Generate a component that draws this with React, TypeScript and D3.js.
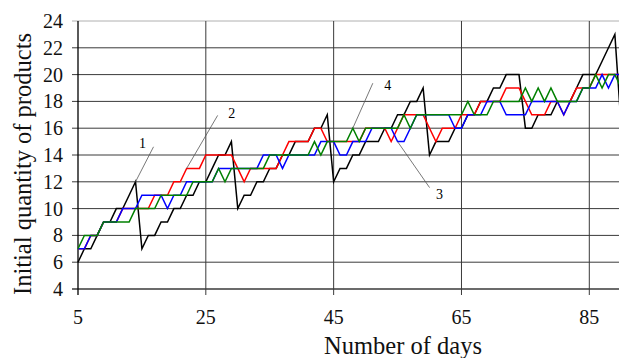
import React, { useEffect, useRef } from "react";
import { select, scaleLinear, line, range } from "d3";

const W = 619;
const H = 358;
// plot frame: x(5) at 78, x(85) at 589 -> x(90) falls just past the right edge
const MARGIN = { top: 21, left: 78, bottom: 69 };
const FONT = "'Liberation Serif', 'Times New Roman', serif";

// day index shared by every series
const DAYS = range(5, 91);

// series 1 (black)
const SERIES_1 = [
  6, 7, 7, 8, 9, 9, 10, 10, 11, 12,
  7, 8, 8, 9, 9, 10, 10, 11, 11, 12,
  12, 13, 14, 14, 15, 10, 11, 11, 12, 12,
  13, 13, 14, 14, 15, 15, 15, 16, 16, 17,
  12, 13, 13, 14, 14, 15, 15, 15, 16, 16,
  17, 17, 18, 18, 19, 14, 15, 15, 15, 16,
  16, 17, 17, 18, 18, 19, 19, 20, 20, 20,
  16, 16, 17, 17, 17, 18, 18, 18, 19, 20,
  20, 20, 21, 22, 23, 16,
];

// series 2 (red)
const SERIES_2 = [
  7, 7, 8, 8, 9, 9, 9, 10, 10, 10,
  10, 10, 11, 11, 11, 12, 12, 13, 13, 13,
  14, 14, 14, 14, 14, 13, 12, 13, 13, 13,
  13, 13, 14, 15, 15, 15, 15, 16, 16, 15,
  15, 15, 15, 15, 15, 16, 16, 16, 16, 15,
  16, 17, 17, 17, 17, 16, 15, 16, 16, 16,
  17, 17, 17, 18, 18, 18, 18, 19, 19, 19,
  18, 17, 17, 17, 18, 18, 17, 18, 19, 19,
  19, 20, 20, 20, 20, 20,
];

// series 3 (blue)
const SERIES_3 = [
  7, 7, 8, 8, 9, 9, 9, 10, 10, 10,
  11, 11, 11, 11, 10, 11, 11, 12, 12, 12,
  12, 12, 13, 13, 13, 13, 13, 13, 13, 14,
  14, 14, 13, 14, 14, 14, 14, 14, 15, 15,
  15, 14, 14, 15, 15, 15, 16, 16, 16, 16,
  15, 15, 16, 17, 17, 17, 17, 17, 17, 16,
  16, 17, 17, 17, 18, 18, 18, 17, 17, 17,
  17, 18, 18, 18, 18, 18, 17, 18, 18, 19,
  19, 19, 20, 19, 20, 20,
];

// series 4 (green)
const SERIES_4 = [
  7, 8, 8, 8, 9, 9, 9, 9, 9, 10,
  10, 10, 10, 11, 11, 11, 11, 11, 12, 12,
  12, 12, 13, 12, 13, 13, 13, 13, 13, 13,
  14, 14, 14, 14, 14, 14, 14, 15, 14, 15,
  15, 15, 15, 16, 15, 16, 16, 16, 16, 16,
  16, 17, 16, 17, 17, 17, 17, 17, 17, 17,
  17, 18, 17, 17, 17, 18, 18, 18, 18, 18,
  19, 18, 19, 18, 19, 18, 18, 18, 18, 19,
  19, 20, 19, 20, 20, 19,
];

const SERIES = [SERIES_1, SERIES_2, SERIES_3, SERIES_4];
const COLORS = ["#000000", "#ff0000", "#0000ff", "#008000"];

const X_TICKS = [5, 25, 45, 65, 85];
const Y_TICKS = [4, 6, 8, 10, 12, 14, 16, 18, 20, 22, 24];

// curve number labels: which series and which day the leader line touches
const CALLOUTS = [
  { label: "1", series: 0, day: 14 },
  { label: "2", series: 1, day: 22 },
  { label: "3", series: 2, day: 55 },
  { label: "4", series: 3, day: 48 },
];
// leader end + text offsets from the touched point, px
const CALLOUT_OFFSETS: Record<string, { lx: number; ly: number; tx: number; ty: number }> = {
  "1": { lx: 18, ly: -35, tx: 7, ty: -34 },
  "2": { lx: 31, ly: -53, tx: 45, ty: -50 },
  "3": { lx: 32, ly: 46, tx: 42, ty: 57 },
  "4": { lx: 20, ly: -45, tx: 35, ty: -38 },
};

export default function App() {
  const ref = useRef<SVGSVGElement>(null);

  useEffect(() => {
    if (!ref.current) return;
    const svg = select(ref.current);
    svg.selectAll("*").remove();

    const x = scaleLinear().domain([5, 85]).range([MARGIN.left, 589.3]);
    const y = scaleLinear().domain([4, 24]).range([H - MARGIN.bottom, MARGIN.top]);
    const x0 = x(5);
    const x1 = x(90);
    const yb = y(4);

    const g = svg.append("g");

    // horizontal grid
    g.selectAll("line.hgrid")
      .data(Y_TICKS)
      .join("line")
      .attr("x1", x0 - 6)
      .attr("x2", x1)
      .attr("y1", (d) => y(d))
      .attr("y2", (d) => y(d))
      .attr("stroke", (d) => (d === 24 ? "#b0b0b0" : "#3a3a3a"))
      .attr("stroke-width", (d) => (d === 4 ? 1.3 : 1));

    // vertical grid
    g.selectAll("line.vgrid")
      .data(X_TICKS)
      .join("line")
      .attr("x1", (d) => x(d))
      .attr("x2", (d) => x(d))
      .attr("y1", y(24))
      .attr("y2", yb + 6)
      .attr("stroke", (d) => (d === 5 ? "#000" : "#3a3a3a"))
      .attr("stroke-width", (d) => (d === 5 ? 1.3 : 1));

    // tick labels
    g.selectAll("text.ylab")
      .data(Y_TICKS)
      .join("text")
      .attr("x", x0 - 15)
      .attr("y", (d) => y(d))
      .attr("dy", "0.35em")
      .attr("text-anchor", "end")
      .attr("font-family", FONT)
      .attr("font-size", 20)
      .attr("fill", "#111")
      .text((d) => `${d}`);

    g.selectAll("text.xlab")
      .data(X_TICKS)
      .join("text")
      .attr("x", (d) => x(d))
      .attr("y", yb + 35)
      .attr("text-anchor", "middle")
      .attr("font-family", FONT)
      .attr("font-size", 20)
      .attr("fill", "#111")
      .text((d) => `${d}`);

    // axis titles
    g.append("text")
      .attr("x", 403)
      .attr("y", 354)
      .attr("text-anchor", "middle")
      .attr("font-family", FONT)
      .attr("font-size", 24.5)
      .attr("fill", "#111")
      .text("Number of days");

    g.append("text")
      .attr("transform", `translate(31,${164}) rotate(-90)`)
      .attr("text-anchor", "middle")
      .attr("font-family", FONT)
      .attr("font-size", 24.5)
      .attr("fill", "#111")
      .text("Initial quantity of products");

    // series
    const path = line<number>()
      .x((_, i) => x(DAYS[i]))
      .y((d) => y(d));

    SERIES.forEach((s, i) => {
      g.append("path")
        .datum(s)
        .attr("d", path)
        .attr("fill", "none")
        .attr("stroke", COLORS[i])
        .attr("stroke-width", 1.5)
        .attr("stroke-linejoin", "miter");
    });

    // callouts
    CALLOUTS.forEach((c) => {
      const px = x(c.day);
      const py = y(SERIES[c.series][DAYS.indexOf(c.day)]);
      const o = CALLOUT_OFFSETS[c.label];
      g.append("line")
        .attr("x1", px)
        .attr("y1", py)
        .attr("x2", px + o.lx)
        .attr("y2", py + o.ly)
        .attr("stroke", "#555")
        .attr("stroke-width", 0.8);
      g.append("text")
        .attr("x", px + o.tx)
        .attr("y", py + o.ty)
        .attr("text-anchor", "middle")
        .attr("font-family", FONT)
        .attr("font-size", 14)
        .attr("fill", "#000")
        .text(c.label);
    });
  }, []);

  return (
    <svg
      ref={ref}
      width={W}
      height={H}
      viewBox={`0 0 ${W} ${H}`}
      style={{ position: "absolute", left: 0, top: 0, background: "#fff" }}
    />
  );
}
